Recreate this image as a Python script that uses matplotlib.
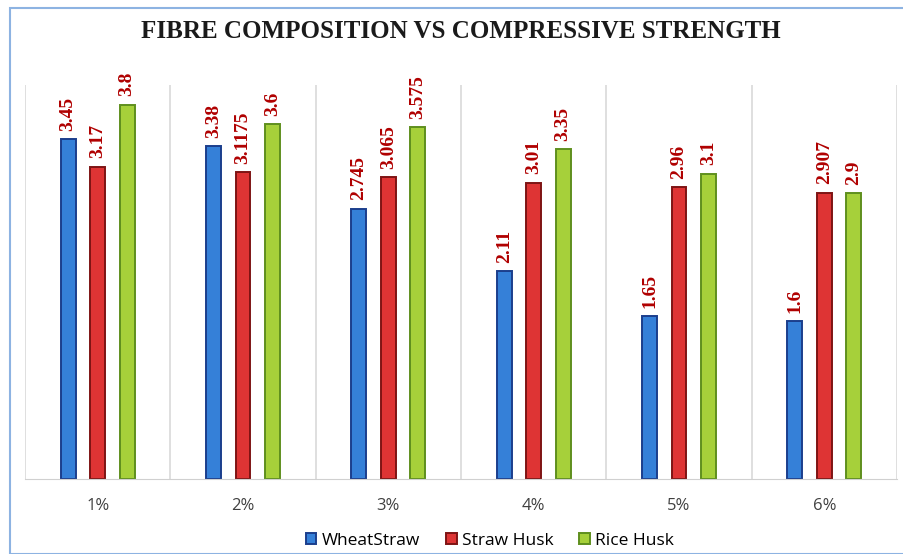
import matplotlib
import matplotlib.pyplot as plt
import numpy as np
from matplotlib.patches import Rectangle

matplotlib.use("agg")

categories = ["1%", "2%", "3%", "4%", "5%", "6%"]
wheat_straw = [3.45, 3.38, 2.745, 2.11, 1.65, 1.6]
straw_husk = [3.17, 3.1175, 3.065, 3.01, 2.96, 2.907]
rice_husk = [3.8, 3.6, 3.575, 3.35, 3.1, 2.9]
series_names = ["WheatStraw", "Straw Husk", "Rice Husk"]

fills = ["#3580D8", "#DE3434", "#A6D03A"]
edges = ["#1B3E8C", "#7E1414", "#5F8F1E"]

W, H = 904, 554
fig = plt.figure(figsize=(W / 100, H / 100), dpi=100)
fig.patches.append(Rectangle((10 / W, 0), 1.0, (H - 8) / H, transform=fig.transFigure,
                             fill=False, edgecolor="#8DB3E2", linewidth=1.5))

ax = fig.add_axes([25 / W, (H - 479) / H, (897 - 25) / W, (479 - 85) / H])
x = np.arange(len(categories))
offset = 0.203
width = 0.103

for i, (vals, name) in enumerate(zip([wheat_straw, straw_husk, rice_husk], series_names)):
    pos = x + (i - 1) * offset
    ax.bar(pos, vals, width, color=fills[i], edgecolor=edges[i], linewidth=1.4, label=name)
    for px, v in zip(pos, vals):
        ax.annotate(f"{v:g}", (px, v), xytext=(0, 6), textcoords="offset points",
                    rotation=90, ha="center", va="bottom", color="#B00000",
                    fontsize=14, fontweight="bold", family="Liberation Serif")

ax.set_xlim(-0.5, len(categories) - 0.5)
ax.set_ylim(0, 4)
ax.set_yticks([])
ax.set_xticks(x)
ax.set_xticklabels(categories, fontsize=12, color="#404040", family="Open Sans")
ax.tick_params(axis="x", length=0, pad=14)
for b in np.arange(-0.5, len(categories), 1.0):
    ax.axvline(b, color="#D9D9D9", linewidth=1.2, zorder=0)
for s in ["top", "left", "right"]:
    ax.spines[s].set_visible(False)
ax.spines["bottom"].set_color("#D0D0D0")

fig.text(461 / W, 1 - 32 / H, "FIBRE COMPOSITION VS COMPRESSIVE STRENGTH",
         ha="center", va="center", fontsize=18, fontweight="bold",
         family="Liberation Serif", color="#1A1A1A")

fig.legend(loc="center", bbox_to_anchor=(490 / W, 1 - 541 / H), ncol=3, frameon=False,
           handlelength=0.6, handleheight=0.6, handletextpad=0.3, columnspacing=1.5,
           prop={"family": "Open Sans", "size": 12.5})

fig.savefig("out.png", dpi=100)
plt.close()
